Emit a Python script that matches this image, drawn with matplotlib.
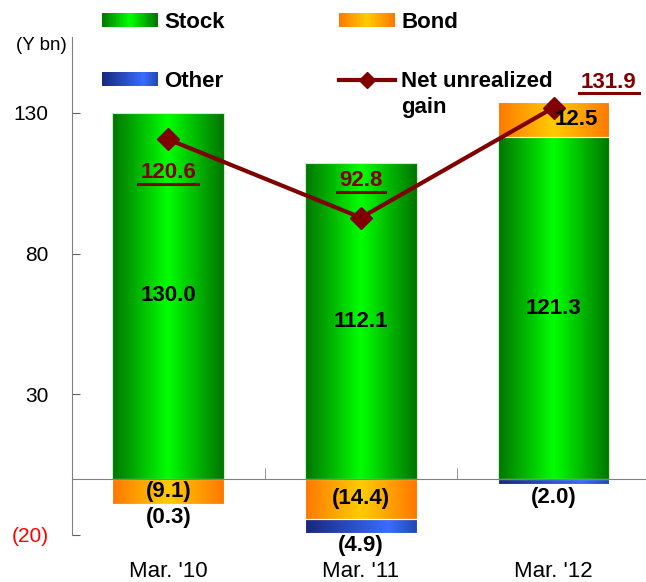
"""
Unrealized gains by asset class, stacked bars with net line.
"""
import numpy as np
import matplotlib
matplotlib.use('Agg')
import matplotlib.pyplot as plt
from matplotlib.colors import LinearSegmentedColormap
from matplotlib.patches import Rectangle
from matplotlib.legend_handler import HandlerBase
from matplotlib.lines import Line2D

plt.rcParams['font.family'] = ['Liberation Sans', 'DejaVu Sans']

# Datos
categories = ["Mar. '10", "Mar. '11", "Mar. '12"]
stock = [130.0, 112.1, 121.3]
bond = [-9.1, -14.4, 12.5]
other = [-0.3, -4.9, -2.0]
net_gain = [120.6, 92.8, 131.9]

stock_labels = ['130.0', '112.1', '121.3']
bond_labels = ['(9.1)', '(14.4)', '12.5']
other_labels = ['(0.3)', '(4.9)', '(2.0)']
net_labels = ['120.6', '92.8', '131.9']

yticks = [-20, 30, 80, 130]
ytick_labels = ['(20)', '30', '80', '130']

# Degradados horizontales de las barras
green_cmap = LinearSegmentedColormap.from_list('g', [(0, '#007400'), (0.5, '#00ff00'), (1, '#007400')])
orange_cmap = LinearSegmentedColormap.from_list('o', [(0, '#ff7800'), (0.5, '#ffcc00'), (1, '#ff7800')])
blue_cmap = LinearSegmentedColormap.from_list('b', [(0, '#18287a'), (0.75, '#3a6cff'), (1, '#2448b0')])
dark_red = '#800000'


def gradient_fill(ax, bars, cmap):
    grad = np.linspace(0, 1, 256).reshape(1, -1)
    for b in bars:
        x0, y0 = b.get_xy()
        w, h = b.get_width(), b.get_height()
        if h == 0:
            continue
        im = ax.imshow(grad, cmap=cmap, extent=[x0, x0 + w, min(y0, y0 + h), max(y0, y0 + h)],
                       aspect='auto', zorder=1.9, interpolation='bicubic')
        im.set_clip_path(b)
        b.set_facecolor('none')


class GradientHandler(HandlerBase):
    def __init__(self, cmap):
        super().__init__()
        self.cmap = cmap

    def create_artists(self, legend, orig_handle, xdescent, ydescent, width, height, fontsize, trans):
        n = 40
        arts = []
        for k in range(n):
            r = Rectangle((-xdescent + width * k / n, -ydescent), width / n * 1.1, height,
                          facecolor=self.cmap((k + 0.5) / n), edgecolor='none', transform=trans)
            arts.append(r)
        return arts


fig = plt.figure(figsize=(6.46, 5.82), dpi=100)
ax = fig.add_axes([72 / 646, 47 / 582, (646 - 72) / 646, (535 - 37) / 582])

x = np.arange(len(categories))
width = 0.58

bond_bottom = [s if b > 0 else 0 for s, b in zip(stock, bond)]
other_bottom = [min(b, 0) for b in bond]

b_stock = ax.bar(x, stock, width, edgecolor='#c8f0c8', linewidth=0.8, zorder=2)
b_bond = ax.bar(x, bond, width, bottom=bond_bottom, edgecolor='white', linewidth=0.8, zorder=2)
b_other = ax.bar(x, other, width, bottom=other_bottom, edgecolor='white', linewidth=0.8, zorder=2)
gradient_fill(ax, b_stock, green_cmap)
gradient_fill(ax, b_bond, orange_cmap)
gradient_fill(ax, b_other, blue_cmap)

ax.plot(x, net_gain, color=dark_red, lw=3, marker='D', markersize=11, zorder=3)

ax.set_xlim(-0.5, 2.48)
ax.set_ylim(-20, 157)

# Etiquetas de valores
bold = dict(fontsize=16, fontweight='bold', ha='center', va='center', zorder=4)
for i in range(len(x)):
    ax.text(x[i], stock[i] / 2, stock_labels[i], **bold)
    dx = 0.12 if bond[i] > 0 else 0
    ax.text(x[i] + dx, bond_bottom[i] + bond[i] / 2, bond_labels[i], **bold)
    ax.text(x[i], other_bottom[i] + other[i] - 4.5, other_labels[i], clip_on=False, **bold)

net_offsets = [(0, -11.9), (0, 13.1), (0.286, 9.0)]
net_texts = []
for i in range(len(x)):
    t = ax.text(x[i] + net_offsets[i][0], net_gain[i] + net_offsets[i][1], net_labels[i],
                fontsize=16, fontweight='bold', color=dark_red, ha='center', va='center',
                clip_on=False, zorder=4)
    net_texts.append(t)

# Ejes
ax.spines['top'].set_visible(False)
ax.spines['right'].set_visible(False)
ax.spines['bottom'].set_position(('data', 0))
for s in ['left', 'bottom']:
    ax.spines[s].set_color('#808080')
ax.set_xticks([])
ax.set_xticks([0.5, 1.5], minor=True)
ax.tick_params(axis='x', which='minor', direction='in', length=8, color='#808080')
ax.set_yticks(yticks)
ax.set_yticklabels(ytick_labels, fontsize=15)
ax.tick_params(axis='y', direction='in', length=6, color='#606060', pad=17)
ax.get_yticklabels()[0].set_color('red')

# Etiquetas de categorías (un poco más arriba para que no se corten)
for i, c in enumerate(categories):
    ax.text(x[i], -0.085, c, transform=ax.get_xaxis_transform(), fontsize=16,
            ha='center', va='baseline', clip_on=False)

fig.text(41 / 646, 1 - 46 / 582, '(Y bn)', fontsize=13.5, ha='center', va='center')

# Leyenda
p_stock = Rectangle((0, 0), 1, 1)
p_bond = Rectangle((0, 0), 1, 1)
p_other = Rectangle((0, 0), 1, 1)
l_net = Line2D([], [], color=dark_red, lw=3, marker='D', markersize=8)
fig.legend([p_stock, p_other, p_bond, l_net], ['Stock', 'Other', 'Bond', 'Net unrealized'],
           handler_map={p_stock: GradientHandler(green_cmap), p_bond: GradientHandler(orange_cmap),
                        p_other: GradientHandler(blue_cmap)},
           loc='upper left', bbox_to_anchor=(102 / 646, 1 - 12 / 582), ncol=2, frameon=False,
           prop={'size': 16, 'weight': 'bold'}, handlelength=2.5, handleheight=0.55,
           handletextpad=0.3, columnspacing=5.14, labelspacing=1.7, borderaxespad=0, borderpad=0)
fig.text(401 / 646, 1 - 107 / 582, 'gain', fontsize=16, fontweight='bold', ha='left', va='center')

# Subrayado de las etiquetas del beneficio neto
fig.canvas.draw()
renderer = fig.canvas.get_renderer()
inv = fig.transFigure.inverted()
for t in net_texts:
    bb = t.get_window_extent(renderer)
    (x0, y0), (x1, y1) = inv.transform([(bb.x0 - 2, bb.y0 - 0.5), (bb.x1 + 2, bb.y1)])
    fig.add_artist(Line2D([x0, x1], [y0, y0], color=dark_red, lw=2.2, transform=fig.transFigure))

fig.savefig('out.png', dpi=100)
